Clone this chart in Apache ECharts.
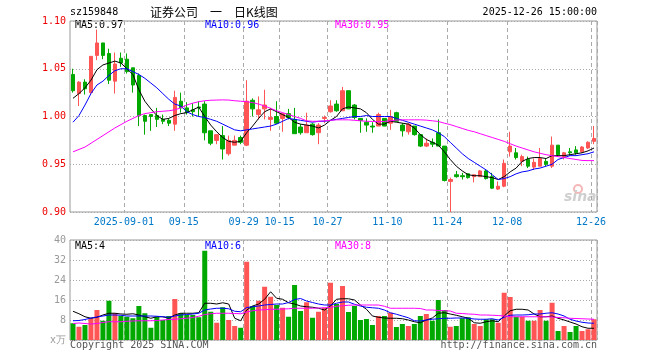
<!DOCTYPE html>
<html>
<head>
<meta charset="utf-8">
<script src="https://cdn.jsdelivr.net/npm/echarts@6/dist/echarts.min.js"></script>
<style>
html,body{margin:0;padding:0;background:#fff;}
#chart{width:660px;height:360px;}
</style>
</head>
<body>
<div id="chart"></div>
<script>
// ---------- data ----------
const dates = [
'2025-08-19','2025-08-20','2025-08-21','2025-08-22','2025-08-25','2025-08-26','2025-08-27','2025-08-28','2025-08-29',
'2025-09-01','2025-09-02','2025-09-03','2025-09-04','2025-09-05','2025-09-08','2025-09-09','2025-09-10','2025-09-11','2025-09-12',
'2025-09-15','2025-09-16','2025-09-17','2025-09-18','2025-09-19','2025-09-22','2025-09-23','2025-09-24','2025-09-25','2025-09-26',
'2025-09-29','2025-09-30','2025-10-09','2025-10-10','2025-10-13','2025-10-14','2025-10-15','2025-10-16','2025-10-17',
'2025-10-20','2025-10-21','2025-10-22','2025-10-23','2025-10-24','2025-10-27','2025-10-28','2025-10-29','2025-10-30','2025-10-31',
'2025-11-03','2025-11-04','2025-11-05','2025-11-06','2025-11-07','2025-11-10','2025-11-11','2025-11-12','2025-11-13','2025-11-14',
'2025-11-17','2025-11-18','2025-11-19','2025-11-20','2025-11-21','2025-11-24','2025-11-25','2025-11-26','2025-11-27','2025-11-28',
'2025-12-01','2025-12-02','2025-12-03','2025-12-04','2025-12-05','2025-12-08','2025-12-09','2025-12-10','2025-12-11','2025-12-12',
'2025-12-15','2025-12-16','2025-12-17','2025-12-18','2025-12-19','2025-12-22','2025-12-23','2025-12-24','2025-12-25','2025-12-26'
];
const labelDates = ['2025-09-01','2025-09-15','2025-09-29','2025-10-15','2025-10-27','2025-11-10','2025-11-24','2025-12-08','2025-12-26'];

const opens = [1.044,1.024,1.036,1.025,1.064,1.077,1.066,1.037,1.061,1.060,
1.051,1.043,1.001,1.002,1.001,0.997,0.996,0.992,1.016,1.009,
1.007,1.010,1.013,0.985,0.975,0.980,0.961,0.970,0.978,0.970,
1.017,1.002,1.008,0.997,1.000,0.998,1.003,0.997,0.989,0.983,
0.992,0.983,0.998,1.005,1.013,1.006,1.027,1.012,0.998,0.994,
0.990,0.990,0.998,0.993,1.004,0.991,0.984,0.990,0.981,0.969,
0.973,0.983,0.969,0.932,0.939,0.938,0.940,0.937,0.937,0.943,
0.937,0.924,0.927,0.963,0.962,0.953,0.955,0.947,0.948,0.953,
0.948,0.970,0.958,0.963,0.965,0.963,0.967,0.974];
const closes = [1.027,1.036,1.029,1.063,1.077,1.064,1.038,1.055,1.056,1.047,
1.033,1.001,0.995,1.000,0.997,0.995,0.993,1.020,1.009,1.004,
1.005,1.009,0.983,0.972,0.981,0.966,0.975,0.975,0.973,1.016,
1.008,1.007,1.012,0.999,0.993,1.003,0.999,0.982,0.983,0.991,
0.981,0.991,0.999,1.011,1.006,1.027,1.008,0.999,0.996,0.991,
0.989,1.002,0.990,1.000,0.995,0.985,0.992,0.981,0.969,0.972,
0.971,0.969,0.933,0.934,0.937,0.937,0.936,0.939,0.943,0.935,
0.925,0.927,0.951,0.969,0.957,0.958,0.948,0.952,0.956,0.950,
0.970,0.960,0.962,0.962,0.962,0.968,0.973,0.977];
const lows = [1.025,1.011,1.023,1.024,1.059,1.060,1.034,1.024,1.052,1.045,
1.025,0.990,0.981,0.985,0.989,0.992,0.990,0.985,1.004,1.002,
1.000,1.000,0.975,0.970,0.971,0.955,0.959,0.970,0.971,0.969,
1.000,0.997,0.997,0.985,0.992,0.984,0.997,0.982,0.981,0.983,
0.980,0.971,0.993,1.004,1.005,1.006,1.008,0.997,0.983,0.984,
0.983,0.990,0.990,0.986,0.995,0.979,0.981,0.980,0.968,0.968,
0.968,0.969,0.932,0.900,0.936,0.934,0.935,0.931,0.937,0.934,
0.924,0.923,0.926,0.958,0.955,0.948,0.946,0.944,0.948,0.948,
0.946,0.958,0.955,0.959,0.960,0.962,0.966,0.971];
const highs = [1.050,1.037,1.039,1.063,1.091,1.077,1.071,1.067,1.067,1.066,
1.051,1.045,1.002,1.002,1.009,1.002,0.998,1.027,1.025,1.015,
1.014,1.016,1.016,0.985,0.981,0.990,0.980,0.980,0.980,1.038,
1.019,1.021,1.028,1.009,1.016,1.004,1.008,1.009,0.992,1.004,
0.993,0.993,1.001,1.017,1.017,1.031,1.027,1.013,0.998,0.998,
0.994,1.004,0.998,1.007,1.005,0.993,0.993,0.990,0.981,0.977,
0.977,0.997,0.969,0.936,0.943,0.941,0.940,0.939,0.944,0.944,
0.941,0.932,0.955,0.984,0.967,0.960,0.958,0.956,0.967,0.956,
0.979,0.970,0.963,0.967,0.969,0.969,0.974,0.990];

const ma5 = [1.019,1.024,1.030,1.038,1.049,1.054,1.056,1.058,1.056,1.050,
1.044,1.028,1.016,1.008,1.001,0.997,0.998,1.001,1.003,1.004,
1.007,1.0098,1.000,0.991,0.984,0.978,0.974,0.973,0.974,0.983,
0.990,0.998,1.005,1.008,1.005,1.002,0.999,0.994,0.992,0.991,
0.990,0.988,0.991,0.996,1.000,1.008,1.010,1.009,1.008,1.004,
0.997,0.992,0.992,0.995,0.994,0.993,0.992,0.988,0.981,0.976,
0.973,0.970,0.963,0.955,0.948,0.943,0.939,0.938,0.938,0.937,
0.936,0.934,0.937,0.942,0.946,0.953,0.956,0.957,0.957,0.956,
0.959,0.959,0.959,0.960,0.961,0.962,0.964,0.967];
const ma10 = [0.994,1.001,1.012,1.024,1.033,1.037,1.043,1.048,1.050,1.050,
1.047,1.044,1.040,1.035,1.030,1.024,1.018,1.013,1.011,1.005,
1.002,1.000,0.999,0.997,0.995,0.992,0.989,0.986,0.985,0.986,
0.987,0.988,0.989,0.990,0.992,0.995,0.998,0.997,0.996,0.995,
0.994,0.995,0.995,0.996,0.997,0.998,0.999,1.000,1.000,1.001,
1.000,1.000,1.000,1.000,0.998,0.996,0.994,0.992,0.990,0.988,
0.986,0.983,0.979,0.973,0.967,0.961,0.956,0.952,0.948,0.944,
0.939,0.934,0.935,0.937,0.940,0.942,0.943,0.945,0.946,0.948,
0.950,0.955,0.957,0.959,0.959,0.960,0.961,0.963];
const ma30 = [0.963,0.9655,0.968,0.972,0.976,0.980,0.984,0.988,0.9915,0.995,
0.998,1.001,1.003,1.004,1.005,1.0055,1.006,1.007,1.009,1.012,
1.014,1.0155,1.0165,1.017,1.0172,1.0174,1.0172,1.0165,1.016,1.0155,
1.0145,1.013,1.011,1.0085,1.006,1.004,1.002,1.000,0.998,0.9955,
0.995,0.995,0.9955,0.996,0.9965,0.9965,0.9965,0.996,0.9955,0.995,
0.9948,0.9946,0.9948,0.9955,0.9962,0.9965,0.9965,0.9965,0.9965,0.9962,
0.9955,0.9948,0.993,0.9915,0.9895,0.9875,0.9855,0.984,0.982,0.980,
0.978,0.976,0.974,0.9715,0.969,0.967,0.965,0.963,0.9615,0.960,
0.959,0.958,0.957,0.956,0.955,0.954,0.9538,0.9538];

const volumes = [6.7,5.3,6.0,8.7,12.0,7.7,15.7,10.7,9.6,9.3,
8.7,13.6,10.7,4.9,9.3,8.0,9.6,16.4,10.7,10.0,
10.0,9.1,35.7,11.3,6.9,13.1,8.0,5.6,4.9,31.3,
13.6,15.7,21.3,17.3,14.0,12.9,9.3,22.0,11.6,15.1,
8.9,11.3,12.9,22.9,14.4,21.6,11.2,13.6,8.0,8.4,
6.0,9.6,9.6,10.9,5.2,6.4,5.6,6.4,9.6,10.4,
7.7,16.0,12.0,5.3,5.6,8.7,9.1,6.4,5.6,8.3,
8.3,6.9,18.9,17.2,9.3,9.3,7.7,7.7,12.0,7.7,
14.9,3.6,5.6,3.2,5.6,3.6,4.3,8.3];
const volMa5 = [11.5,10.5,9.3,8.7,9.1,10.0,10.7,10.7,10.4,10.3,
10.5,10.0,9.3,8.7,9.3,9.3,8.7,10.0,10.7,10.7,
10.7,10.9,14.7,14.7,14.4,14.9,14.4,8.7,7.7,12.0,
13.6,14.4,16.3,19.3,16.7,16.3,14.9,14.4,13.6,13.3,
13.1,12.7,12.0,13.6,16.3,16.5,16.5,16.0,14.0,12.3,
9.6,9.1,8.8,8.7,8.7,8.5,8.0,7.3,6.9,8.0,
8.8,10.7,10.9,10.4,9.9,9.3,8.7,6.9,6.7,7.3,
7.7,7.3,9.6,11.7,12.3,12.3,12.0,10.4,9.3,9.3,
9.6,8.7,8.0,7.2,6.4,5.3,4.7,4.7];
const volMa10 = [7.7,7.8,8.2,8.8,9.2,9.6,10.0,10.0,9.9,9.6,
9.6,9.6,9.6,9.6,9.5,9.3,9.1,9.6,10.0,10.2,
10.4,10.7,12.0,12.4,12.7,12.7,12.5,11.5,11.3,13.0,
13.3,13.6,14.0,14.2,14.4,14.4,15.0,16.2,16.6,15.6,
15.0,14.4,14.0,14.0,14.7,15.2,15.2,14.3,13.6,13.1,
12.9,12.7,12.0,10.9,10.3,9.6,8.9,7.7,7.6,8.0,
8.3,8.5,8.7,8.7,8.8,8.8,8.7,8.4,8.3,8.3,
8.5,8.0,9.1,9.9,10.0,10.0,10.1,10.4,10.4,10.7,
10.9,10.4,9.6,8.3,7.6,7.1,6.8,6.7];
const volMa30 = [6.6,6.8,6.6,6.4,6.6,7.0,7.3,7.3,7.3,7.5,
7.6,7.7,7.7,7.7,7.8,8.0,8.2,8.3,8.5,8.7,
9.0,9.5,10.2,10.5,10.7,10.7,10.7,10.6,10.5,11.2,
11.7,12.0,12.1,12.3,12.3,12.4,12.5,12.7,12.7,12.7,
12.7,12.8,12.9,13.0,13.5,13.7,13.9,14.0,14.0,14.0,
14.0,14.0,13.5,12.7,12.7,12.7,12.7,12.7,12.6,12.0,
12.0,11.8,11.7,11.6,10.7,10.6,10.4,10.3,10.0,10.0,
9.9,9.8,9.6,9.3,9.3,9.3,9.3,9.3,9.3,9.3,
9.2,9.0,8.9,8.7,8.6,8.5,8.4,8.3];

const priceLegend = ['MA5:0.97','MA10:0.96','MA30:0.95'];
const volLegend = ['MA5:4','MA10:6','MA30:8'];
const code = 'sz159848';
const title = '证券公司　一　日K线图';
const stamp = '2025-12-26 15:00:00';

// ---------- styles ----------
const RED = '#ff5555', GREEN = '#00a800';
const MONO = 'DejaVu Sans Mono';
const lineColors = ['#000000', '#0000ff', '#ff00ff'];

const labelIdx = new Set(labelDates.map(d => dates.indexOf(d)));
const showAt = (i) => labelIdx.has(i);

const candleData = dates.map((d, i) => [opens[i], closes[i], lows[i], highs[i]]);
const volData = volumes.map((v, i) => ({
  value: v,
  itemStyle: { color: closes[i] >= opens[i] ? RED : GREEN }
}));

const chart = echarts.init(document.getElementById('chart'), null, { renderer: 'canvas' });

const gridBorder = { show: true, borderColor: '#999', borderWidth: 1, backgroundColor: 'transparent' };
const vSplit = { show: true, interval: (i) => showAt(i), lineStyle: { color: '#aaa', type: [4, 3], width: 1 } };
const hSplit = { show: true, lineStyle: { color: '#aaa', type: [1, 2], width: 1 } };

function lineSeries(name, data, color, xi, yi) {
  return {
    name, type: 'line', data, xAxisIndex: xi, yAxisIndex: yi,
    showSymbol: false, symbol: 'none', silent: true, animation: false,
    lineStyle: { color, width: 1 }, z: 4
  };
}

function legendTexts(items, top) {
  return items.map((t, k) => ({
    type: 'text', left: 75 + 130 * k, top,
    style: { text: t, fill: lineColors[k], font: '10px ' + MONO }
  }));
}

const option = {
  animation: false,
  backgroundColor: '#fff',
  grid: [
    Object.assign({ left: 70, top: 21, width: 527, height: 191 }, gridBorder),
    Object.assign({ left: 70, top: 240, width: 527, height: 100 }, gridBorder)
  ],
  xAxis: [
    {
      type: 'category', data: dates, gridIndex: 0, boundaryGap: true,
      axisLine: { show: false }, axisTick: { show: false },
      axisLabel: {
        interval: (i) => showAt(i), color: '#0078c8', fontFamily: MONO, fontSize: 10,
        margin: 5, padding: [0, 6, 0, 0],
        formatter: (v) => v === labelDates[0] ? v : v.slice(5)
      },
      splitLine: vSplit
    },
    {
      type: 'category', data: dates, gridIndex: 1, boundaryGap: true,
      axisLine: { show: false }, axisTick: { show: false }, axisLabel: { show: false },
      splitLine: vSplit
    }
  ],
  yAxis: [
    {
      type: 'value', gridIndex: 0, min: 0.9, max: 1.1, interval: 0.05,
      axisLine: { show: false }, axisTick: { show: false },
      axisLabel: { color: '#ee0000', fontFamily: MONO, fontSize: 10, margin: 4,
        formatter: (v) => v.toFixed(2) },
      splitLine: hSplit
    },
    {
      type: 'value', gridIndex: 1, min: 0, max: 40, interval: 8,
      axisLine: { show: false }, axisTick: { show: false },
      axisLabel: { color: '#999', fontFamily: MONO, fontSize: 10, margin: 4,
        formatter: (v) => v === 0 ? 'x万' : String(v) },
      splitLine: hSplit
    }
  ],
  series: [
    {
      type: 'candlestick', data: candleData, xAxisIndex: 0, yAxisIndex: 0,
      barWidth: 4, silent: true, z: 3,
      itemStyle: { color: RED, color0: GREEN, borderColor: RED, borderColor0: GREEN, borderWidth: 1 }
    },
    lineSeries('MA5', ma5, lineColors[0], 0, 0),
    lineSeries('MA10', ma10, lineColors[1], 0, 0),
    lineSeries('MA30', ma30, lineColors[2], 0, 0),
    {
      type: 'bar', data: volData, xAxisIndex: 1, yAxisIndex: 1, barWidth: 5, silent: true, z: 3
    },
    lineSeries('VMA5', volMa5, lineColors[0], 1, 1),
    lineSeries('VMA10', volMa10, lineColors[1], 1, 1),
    lineSeries('VMA30', volMa30, lineColors[2], 1, 1)
  ],
  graphic: [
    { type: 'text', left: 70, top: 7, style: { text: code, fill: '#000', font: '10px ' + MONO } },
    { type: 'text', left: 150, top: 6, style: { text: title, fill: '#000', font: '12px "Noto Sans CJK SC"' } },
    { type: 'text', right: 63, top: 7, style: { text: stamp, fill: '#000', font: '10px ' + MONO } },
    ...legendTexts(priceLegend, 20),
    ...legendTexts(volLegend, 241),
    { type: 'text', left: 70, top: 340, style: { text: 'Copyright 2025 SINA.COM', fill: '#555', font: '10px ' + MONO } },
    { type: 'text', right: 63, top: 340, style: { text: 'http://finance.sina.com.cn', fill: '#555', font: '10px ' + MONO } },
    { type: 'circle', shape: { cx: 578, cy: 189, r: 4 }, style: { fill: 'none', stroke: '#f4b8b8', lineWidth: 2 } },
    { type: 'text', left: 564, top: 190, style: { text: 'sina', fill: '#cfcfcf', font: 'italic bold 14px "DejaVu Sans"' } }
  ]
};
chart.setOption(option);
</script>
</body>
</html>
